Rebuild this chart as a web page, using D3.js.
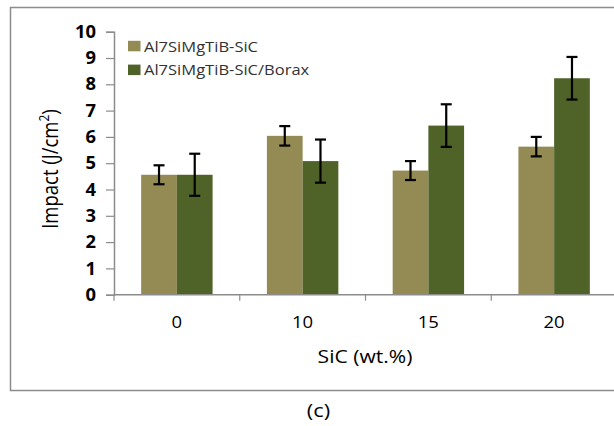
<!DOCTYPE html>
<html>
<head>
<meta charset="utf-8">
<script src="https://cdn.jsdelivr.net/npm/d3@7"></script>
<style>
  body { margin: 0; background: #fff; }
  text { font-family: "Open Sans", Lato, sans-serif; }
</style>
</head>
<body>
<script>
// data
const categories = ['0', '10', '15', '20'];
const seriesNames = ['Al7SiMgTiB-SiC', 'Al7SiMgTiB-SiC/Borax'];
const sicValues = [4.56, 6.04, 4.72, 5.63];
const sicErrors = [0.36, 0.37, 0.36, 0.37];
const boraxValues = [4.56, 5.08, 6.43, 8.23];
const boraxErrors = [0.8, 0.82, 0.81, 0.81];
const yTicks = [0, 1, 2, 3, 4, 5, 6, 7, 8, 9, 10];
const colors = ['#948A54', '#4F6228'];

const width = 614;
const height = 426;

// the original looks a bit stretched sideways, widen text to match
const stretch = (selection, f) => {
  selection.each(function () {
    const w = this.getComputedTextLength();
    d3.select(this).attr('textLength', w * f).attr('lengthAdjust', 'spacingAndGlyphs');
  });
};

const svg = d3.select('body').append('svg').attr('width', width).attr('height', height);

// outer frame (right side cut off in the original)
svg.append('path')
  .attr('d', 'M620,7.5 H10.5 V390.5 H620')
  .attr('fill', 'none')
  .attr('stroke', '#8c8c8c')
  .attr('stroke-width', 1.5);

const x = d3.scaleBand().domain(categories).range([114, 617]);
const y = d3.scaleLinear().domain([0, 10]).range([294.7, 31.7]);
const barW = x.step() * 0.284;

const rows = categories.map((c, i) => ({
  cat: c,
  vals: [
    { s: 0, v: sicValues[i], e: sicErrors[i] },
    { s: 1, v: boraxValues[i], e: boraxErrors[i] }
  ]
}));

// bars
const groups = svg.append('g')
  .selectAll('g')
  .data(rows)
  .join('g')
    .attr('transform', (d) => `translate(${x(d.cat) + x.bandwidth() / 2},0)`);

groups.selectAll('rect')
  .data((d) => d.vals)
  .join('rect')
    .attr('x', (d) => d.s === 0 ? -barW : 0)
    .attr('y', (d) => y(d.v))
    .attr('width', barW)
    .attr('height', (d) => y(0) - y(d.v))
    .attr('fill', (d) => colors[d.s]);

// error bars
const err = groups.selectAll('g.err')
  .data((d) => d.vals)
  .join('g')
    .attr('class', 'err')
    .attr('transform', (d) => `translate(${d.s === 0 ? -barW / 2 : barW / 2},0)`)
    .attr('stroke', '#000')
    .attr('stroke-width', 2.2);

err.append('line')
  .attr('y1', (d) => y(d.v + d.e))
  .attr('y2', (d) => y(d.v - d.e));
err.append('line')
  .attr('x1', -5.5).attr('x2', 5.5)
  .attr('y1', (d) => y(d.v + d.e)).attr('y2', (d) => y(d.v + d.e));
err.append('line')
  .attr('x1', -5.5).attr('x2', 5.5)
  .attr('y1', (d) => y(d.v - d.e)).attr('y2', (d) => y(d.v - d.e));

// y axis
const yAxis = svg.append('g')
  .attr('transform', 'translate(114,0)')
  .call(d3.axisLeft(y).tickValues(yTicks).tickSize(8).tickPadding(10));
yAxis.select('.domain').attr('stroke', '#8c8c8c').attr('stroke-width', 1.5);
yAxis.selectAll('.tick line').attr('stroke', '#8c8c8c').attr('stroke-width', 1.2);
yAxis.selectAll('.tick text')
  .attr('font-size', 17.5)
  .attr('font-weight', 'bold')
  .attr('fill', '#000')
  .attr('font-family', '"Open Sans", sans-serif')
  .call(stretch, 1.05);

// x axis: ticks between categories
const xAxis = svg.append('g')
  .attr('transform', `translate(0,${y(0)})`);
xAxis.append('line')
  .attr('x1', 114).attr('x2', 620)
  .attr('stroke', '#8c8c8c').attr('stroke-width', 1.5);
xAxis.selectAll('line.tk')
  .data(categories)
  .join('line')
    .attr('class', 'tk')
    .attr('x1', (d) => x(d)).attr('x2', (d) => x(d))
    .attr('y1', 0).attr('y2', 6)
    .attr('stroke', '#8c8c8c').attr('stroke-width', 1.2);
xAxis.selectAll('text')
  .data(categories)
  .join('text')
    .attr('x', (d) => x(d) + x.bandwidth() / 2)
    .attr('y', 33.5)
    .attr('text-anchor', 'middle')
    .attr('font-size', 16.5)
    .attr('fill', '#000')
    .text((d) => d)
    .call(stretch, 1.12);

// axis titles
svg.append('text')
  .attr('x', 365).attr('y', 363)
  .attr('text-anchor', 'middle')
  .attr('font-size', 18)
  .text('SiC (wt.%)')
  .call(stretch, 1.17);

const yt = svg.append('text')
  .attr('transform', 'translate(58,169) scale(1.15,1) rotate(-90)')
  .attr('text-anchor', 'middle')
  .attr('font-size', 18.5);
yt.append('tspan').text('Impact (J/cm');
yt.append('tspan').attr('font-size', 12).attr('dy', -8).text('2');
yt.append('tspan').attr('dy', 8).text(')');

// legend
const legend = svg.append('g')
  .selectAll('g')
  .data(seriesNames)
  .join('g')
    .attr('transform', (d, i) => `translate(128,${46 + i * 23.8})`);
legend.append('rect')
  .attr('x', 0).attr('y', -5.2)
  .attr('width', 12.5).attr('height', 10.5)
  .attr('fill', (d, i) => colors[i]);
legend.append('text')
  .attr('x', 16).attr('y', 5.5)
  .attr('font-size', 14)
  .attr('fill', '#333')
  .text((d) => d)
  .call(stretch, 1.18);

// panel label
svg.append('text')
  .attr('x', 318.5).attr('y', 417)
  .attr('text-anchor', 'middle')
  .attr('font-size', 19)
  .text('(c)')
  .call(stretch, 1.15);
</script>
</body>
</html>
